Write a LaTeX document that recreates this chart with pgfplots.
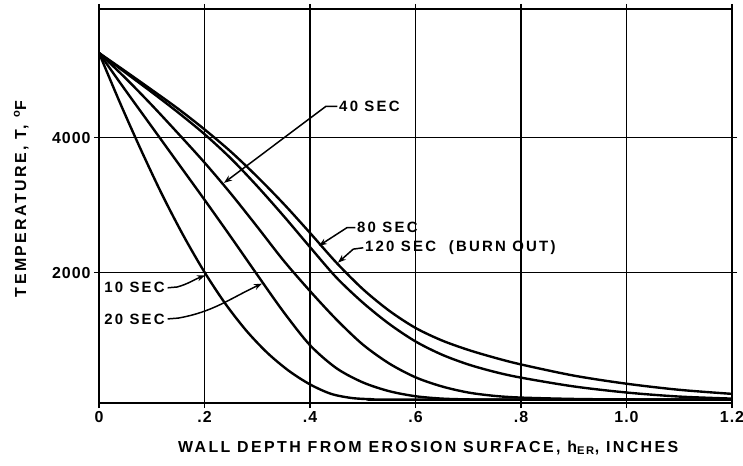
\documentclass[border=0pt]{standalone}
\usepackage{fontspec}
\setmainfont{Liberation Sans}[LetterSpace=15]
\newfontfamily\tickfont{Liberation Sans}[LetterSpace=6]
\usepackage{pgfplots}
\pgfplotsset{compat=1.18}
\usetikzlibrary{arrows.meta}
\pgfplotstableread{
x y
0 5250
0.04 4510
0.08 3810
0.12 3150
0.16 2550
0.20 2010
0.24 1538
0.28 1138
0.32 810
0.36 550
0.40 350
0.44 210
0.48 148
0.52 130
0.56 125
1.2 125
}\tenSec
\pgfplotstableread{
x y
0 5250
0.05 4700
0.10 4160
0.15 3620
0.20 3080
0.25 2530
0.30 1970
0.35 1420
0.40 930
0.45 590
0.50 380
0.55 250
0.60 175
0.65 140
0.70 128
0.75 125
1.2 125
}\twentySec
\pgfplotstableread{
x y
0 5250
0.05 4880
0.10 4480
0.15 4060
0.20 3630
0.25 3170
0.30 2680
0.35 2180
0.40 1730
0.45 1310
0.50 940
0.55 660
0.60 455
0.65 320
0.70 230
0.75 180
0.80 155
0.90 135
1.00 128
1.20 125
}\fortySec
\pgfplotstableread{
x y
0 5250
0.05 4960
0.10 4670
0.15 4370
0.20 4050
0.25 3690
0.30 3280
0.35 2840
0.40 2380
0.45 1930
0.50 1560
0.55 1245
0.60 985
0.65 790
0.70 645
0.75 535
0.80 450
0.90 320
1.00 230
1.10 170
1.20 140
}\eightySec
\pgfplotstableread{
x y
0 5250
0.05 4980
0.10 4705
0.15 4425
0.20 4120
0.25 3790
0.30 3420
0.35 3020
0.40 2590
0.45 2150
0.50 1760
0.55 1440
0.60 1185
0.65 1000
0.70 860
0.75 745
0.80 645
0.90 480
1.00 360
1.10 270
1.20 210
}\onetwentySec
\pgfplotsset{curve/.style={black, solid, mark=none, line width=2.4pt, smooth, tension=0.5}}
\begin{document}
\begin{tikzpicture}
\begin{axis}[
  scale only axis, width=633bp, height=394bp,
  xmin=0, xmax=1.2, ymin=75, ymax=5900,
  xtick={0,0.2,0.4,0.6,0.8,1.0,1.2},
  xticklabels={0,.2,.4,.6,.8,1.0,1.2},
  ytick={2000,4000}, yticklabels={2000,4000},
  grid=major, grid style={black, line width=1.1pt},
  axis line style={line width=1.6pt},
  tick style={black, line width=1.1pt}, tick align=outside, major tick length=5bp,
  /pgf/number format/assume math mode=true,
  ticklabel style={font=\fontsize{16}{16}\tickfont\bfseries},
  label style={font=\fontsize{16}{18}\selectfont\bfseries},
  xlabel={WALL DEPTH FROM EROSION SURFACE,\ h\textsubscript{ER},\ INCHES},
  ylabel={TEMPERATURE, T, \textsuperscript{o}F},
  xlabel style={at={(axis description cs:0.52,-0.114)}, anchor=center},
  ylabel style={at={(axis description cs:-0.123,0.518)}, anchor=center},
  clip=true,
]
\addplot[curve] table {\tenSec};
\addplot[curve] table {\twentySec};
\addplot[curve] table {\fortySec};
\addplot[curve] table {\eightySec};
\addplot[curve] table {\onetwentySec};

\tikzset{lead/.style={line width=1.5pt, -{Stealth[length=8bp,width=6bp]}},
         ann/.style={font=\fontsize{15}{15}\selectfont\bfseries, inner sep=0pt}}
% 40 SEC
\node[ann, anchor=west] at (axis cs:0.455,4460) {40 SEC};
\draw[lead] (axis cs:0.452,4460) -- (axis cs:0.430,4460) -- (axis cs:0.237,3330);
% 80 SEC
\node[ann, anchor=west] at (axis cs:0.489,2667) {80 SEC};
\draw[lead] (axis cs:0.486,2667) -- (axis cs:0.470,2667) -- (axis cs:0.417,2400);
% 120 SEC
\node[ann, anchor=west] at (axis cs:0.504,2370) {120 SEC\ \ (BURN OUT)};
\draw[lead] (axis cs:0.501,2370) -- (axis cs:0.482,2350) -- (axis cs:0.453,2150);
% 10 SEC
\node[ann, anchor=east] at (axis cs:0.125,1778) {10 SEC};
\draw[lead] (axis cs:0.130,1778) -- (axis cs:0.148,1790) to[out=15,in=200] (axis cs:0.201,1960);
% 20 SEC
\node[ann, anchor=east] at (axis cs:0.125,1318) {20 SEC};
\draw[lead] (axis cs:0.130,1318) -- (axis cs:0.150,1330) to[out=10,in=205] (axis cs:0.309,1840);
\end{axis}
\pgfresetboundingbox
\path ([shift={(-99bp,-63bp)}]current axis.south west) rectangle ([shift={(11bp,9bp)}]current axis.north east);
\end{tikzpicture}
\end{document}
